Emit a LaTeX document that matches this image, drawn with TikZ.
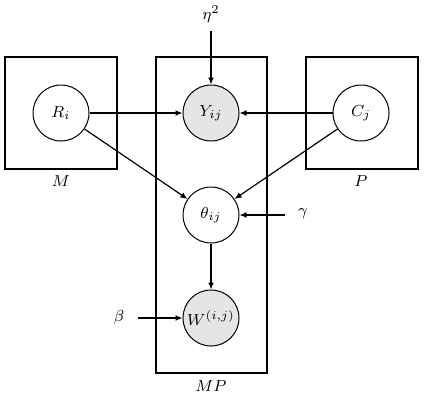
\documentclass[tikz,border=0pt]{standalone}
\usetikzlibrary{arrows.meta}
\begin{document}
\begin{tikzpicture}[x=0.5pt,y=-0.5pt,font=\footnotesize,
  var/.style={circle,draw,line width=0.5pt,minimum size=28pt,inner sep=0pt},
  obs/.style={var,fill=gray!20},
  plate/.style={draw,line width=0.8pt},
  arr/.style={-{Latex[length=3.5pt,width=3pt]},line width=0.6pt}]
\useasboundingbox (0,0) rectangle (442,402);
\draw[plate] (5,57) rectangle (117,169);
\draw[plate] (156,57) rectangle (267,373);
\draw[plate] (306,57) rectangle (418,169);
\node (lM) at (61,181) {$M$};
\node (lMP) at (211,386) {$MP$};
\node (lP) at (361,181) {$P$};
\node[var] (R) at (61,113) {$R_i$};
\node[obs] (Y) at (211,113) {$Y_{ij}$};
\node[var] (C) at (361,113) {$C_j$};
\node[var] (T) at (211,215) {$\theta_{ij}$};
\node[obs] (W) at (211,318) {$W^{(i,j)}$};
\node (eta) at (211,14) {$\eta^2$};
\node (gam) at (303,214) {$\gamma$};
\node (bet) at (119,317) {$\beta$};
\coordinate (etaS) at (211,31);
\coordinate (gamS) at (285,215);
\coordinate (betS) at (138,318);
\draw[arr] (etaS) -- (Y);
\draw[arr] (R) -- (Y);
\draw[arr] (C) -- (Y);
\draw[arr] (R) -- (T);
\draw[arr] (C) -- (T);
\draw[arr] (gamS) -- (T);
\draw[arr] (T) -- (W);
\draw[arr] (betS) -- (W);
\end{tikzpicture}
\end{document}
